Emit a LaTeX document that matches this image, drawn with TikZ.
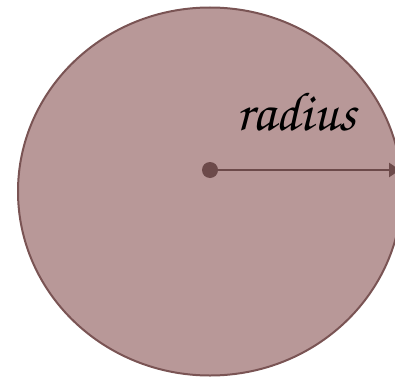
\documentclass[tikz,border=0pt]{standalone}
\usepackage[T1]{fontenc}
\usetikzlibrary{shapes.geometric,arrows.meta}
\definecolor{discfill}{RGB}{184,152,152}
\definecolor{discline}{RGB}{122,84,84}
\definecolor{arrowcol}{RGB}{108,74,74}
\tikzset{
  disc/.style={ellipse, draw=discline, fill=discfill, line width=2pt, minimum width=384pt, minimum height=368pt, inner sep=0pt},
  centredot/.style={circle, fill=arrowcol, minimum size=16pt, inner sep=0pt},
  radarrow/.style={draw=arrowcol, line width=2.6pt, -{Triangle[length=11pt,width=14pt]}},
  lab/.style={font=\fontencoding{T1}\fontfamily{pzc}\fontseries{mb}\fontshape{it}\fontsize{55}{60}\selectfont, text=black, inner sep=0pt}
}
\begin{document}
\begin{tikzpicture}[x=1pt,y=-1pt]
\useasboundingbox (0,0) rectangle (395,377);
\node[disc] (circ) at (210,191.5) {};
\node[centredot] (ctr) at (210,170) {};
\coordinate (rim) at (400,170);
\draw[radarrow] (ctr.center) -- (rim);
\node[lab, anchor=base] (rad) at (296,130) {radius};
\end{tikzpicture}
\end{document}
